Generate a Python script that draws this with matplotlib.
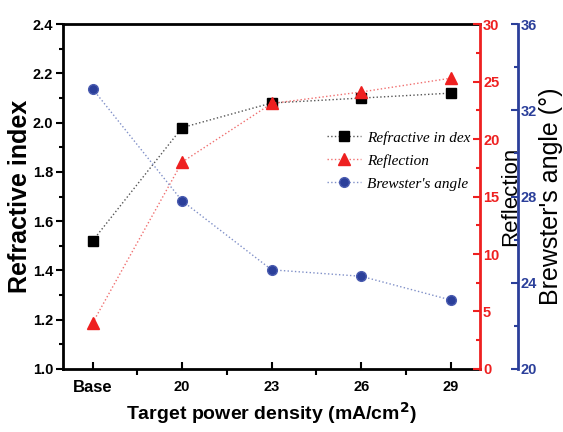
import matplotlib.pyplot as plt
from matplotlib.ticker import MultipleLocator

plt.rcParams['font.family'] = 'Liberation Sans'
plt.rcParams['font.weight'] = 'bold'
plt.rcParams['xtick.labelsize'] = 10.5
plt.rcParams['ytick.labelsize'] = 10.5

categories = ['Base', '20', '23', '26', '29']
refractive = [1.52, 1.98, 2.08, 2.10, 2.12]
reflection = [4.0, 18.0, 23.1, 24.1, 25.3]
brewster = [33.0, 27.8, 24.6, 24.3, 23.2]

red = '#ee2020'
blue = '#2b3f9a'
x = list(range(len(categories)))

fig = plt.figure(figsize=(5.63, 4.32), dpi=100)
ax = fig.add_axes([0.112, 0.146, 0.741, 0.798])
ax2 = ax.twinx()
ax3 = ax.twinx()

l1, = ax.plot(x, refractive, ls=':', color='#555555', lw=1, marker='s', ms=7,
              mfc='black', mec='black', label='Refractive in dex')
l2, = ax2.plot(x, reflection, ls=':', color='#f07070', lw=1, marker='^', ms=9,
               mfc=red, mec=red, label='Reflection')
l3, = ax3.plot(x, brewster, ls=':', color='#8090c8', lw=1, marker='o', ms=7,
               mfc=blue, mec='#4a5cb0', label="Brewster's angle")

ax.set_xlim(-0.33, 4.33)
ax.set_ylim(1.0, 2.4)
ax2.set_ylim(0, 30)
ax3.set_ylim(20, 36)

ax.set_xticks(x)
ax.set_xticklabels(categories)
ax.set_xticks([0.5, 1.5, 2.5, 3.5], minor=True)
ax.yaxis.set_major_locator(MultipleLocator(0.2))
ax.yaxis.set_minor_locator(MultipleLocator(0.1))
ax2.yaxis.set_major_locator(MultipleLocator(5))
ax2.yaxis.set_minor_locator(MultipleLocator(2.5))
ax3.yaxis.set_major_locator(MultipleLocator(4))
ax3.yaxis.set_minor_locator(MultipleLocator(2))

ax.tick_params(axis='x', which='major', direction='in', length=5, width=1.5, pad=8)
ax.tick_params(axis='x', which='minor', direction='out', length=4, width=1.5)
ax.tick_params(axis='y', which='major', direction='out', length=5, width=1.5, pad=2)
ax.tick_params(axis='y', which='minor', direction='out', length=3, width=1.5)
ax.get_xticklabels()[0].set_fontsize(12)

ax2.tick_params(axis='y', which='both', direction='in', colors=red, width=1.5, pad=2)
ax2.tick_params(axis='y', which='major', length=5)
ax2.tick_params(axis='y', which='minor', length=3)
ax3.tick_params(axis='y', which='both', direction='in', colors=blue, width=1.5, pad=2)
ax3.tick_params(axis='y', which='major', length=5)
ax3.tick_params(axis='y', which='minor', length=3)

for s in ['left', 'bottom', 'top']:
    ax.spines[s].set_linewidth(2)
ax.spines['right'].set_visible(False)
ax2.spines['right'].set_color(red)
ax2.spines['right'].set_linewidth(2)
for s in ['left', 'bottom', 'top']:
    ax2.spines[s].set_visible(False)
    ax3.spines[s].set_visible(False)
ax3.spines['right'].set_position(('axes', 1.091))
ax3.spines['right'].set_color(blue)
ax3.spines['right'].set_linewidth(2)

ax.set_ylabel('Refractive index', weight='bold', size=18)
ax.yaxis.set_label_coords(-0.075, 0.5)
ax.set_xlabel('Target power density (mA/cm$^2$)', weight='bold', size=14)
ax.xaxis.set_label_coords(0.5, -0.09)
ax2.set_ylabel('Reflection', weight='normal', size=16)
ax2.yaxis.set_label_coords(1.047, 0.5)
ax3.set_ylabel("Brewster's angle (\u00b0)", weight='normal', size=18)
ax3.yaxis.set_label_coords(1.142, 0.5)

leg = ax.legend(handles=[l1, l2, l3], loc='upper left', bbox_to_anchor=(0.6, 0.73),
                frameon=False, prop=dict(family='Liberation Serif', style='italic',
                                         weight='normal', size=11),
                handlelength=2.2, handletextpad=0.4, labelspacing=0.6)

fig.savefig('out.png', dpi=100)
